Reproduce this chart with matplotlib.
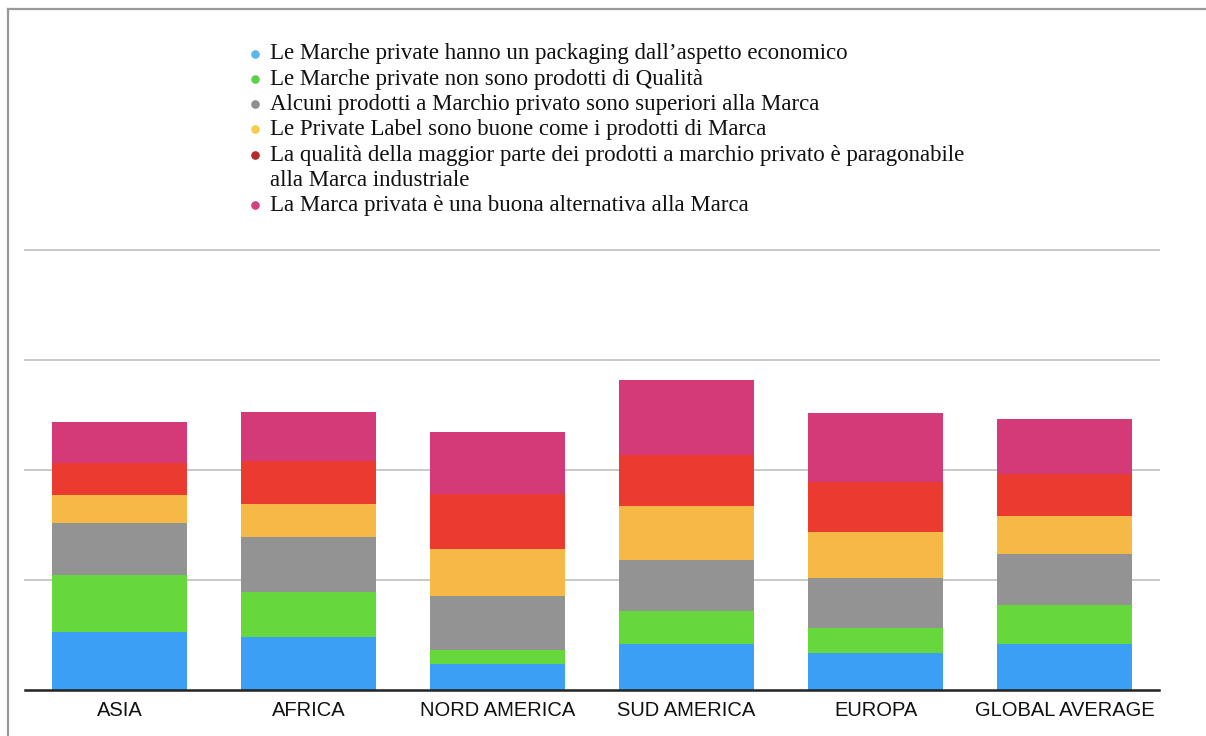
import numpy as np
import matplotlib.pyplot as plt
from matplotlib.lines import Line2D

regions = ['ASIA', 'AFRICA', 'NORD AMERICA', 'SUD AMERICA', 'EUROPA', 'GLOBAL AVERAGE']

statements = [
    'Le Marche private hanno un packaging dall\u2019aspetto economico',
    'Le Marche private non sono prodotti di Qualità',
    'Alcuni prodotti a Marchio privato sono superiori alla Marca',
    'Le Private Label sono buone come i prodotti di Marca',
    'La qualità della maggior parte dei prodotti a marchio privato è paragonabile\nalla Marca industriale',
    'La Marca privata è una buona alternativa alla Marca',
]

# one list per statement, one value per region
packaging = [26.5, 24.0, 12.0, 21.0, 17.0, 21.0]
non_qualita = [25.8, 20.5, 6.3, 14.9, 11.0, 17.5]
superiori = [23.5, 24.9, 24.4, 23.3, 22.9, 23.5]
buone = [12.8, 15.1, 21.5, 24.4, 20.8, 17.1]
paragonabile = [14.4, 19.7, 24.9, 23.1, 23.0, 19.2]
alternativa = [19.0, 22.2, 28.2, 34.3, 31.2, 24.9]

series = [packaging, non_qualita, superiori, buone, paragonabile, alternativa]
bar_colors = ['#3a9ff5', '#66d83b', '#939393', '#f6b945', '#eb3a2f', '#d33a77']
dot_colors = ['#5ab8ee', '#5fd04a', '#8f8f8f', '#f5cf4a', '#b52a2a', '#d44080']

W, H = 1206, 736
fig = plt.figure(figsize=(W / 100, H / 100), dpi=100)
ax = fig.add_axes([25 / W, 46 / H, 1134 / W, 440 / H])

x = np.arange(len(regions))
bottom = np.zeros(len(regions))
for vals, col in zip(series, bar_colors):
    ax.bar(x, vals, width=0.714, bottom=bottom, color=col, linewidth=0, zorder=2)
    bottom += np.array(vals)

ax.set_xlim(-0.5, len(regions) - 0.5)
ax.set_ylim(0, 200)
ax.set_yticks([50, 100, 150, 200])
ax.yaxis.grid(True, color='#c8c8c8', linewidth=1.4, zorder=0)
for gl in ax.get_ygridlines():
    gl.set_clip_on(False)
ax.tick_params(axis='y', length=0, labelleft=False)

ax.set_xticks(x)
ax.set_xticklabels(regions, fontfamily='Liberation Sans', fontsize=14.5, color='#111111')
ax.tick_params(axis='x', length=0, pad=8)

for s in ['top', 'right', 'left']:
    ax.spines[s].set_visible(False)
ax.spines['bottom'].set_color('#222222')
ax.spines['bottom'].set_linewidth(1.8)
ax.spines['bottom'].set_zorder(3)

# legend written line by line, wrapped items continue on the next line
line_step = 25.3
yb = 59.5
for txt, col in zip(statements, dot_colors):
    fig.add_artist(Line2D([255 / W], [1 - (yb - 6) / H], marker='o', markersize=5.2,
                          color=col, linestyle='none'))
    for part in txt.split('\n'):
        fig.text(270 / W, 1 - yb / H, part, fontfamily='Liberation Serif', fontsize=16.5,
                 color='#111111', va='baseline', ha='left')
        yb += line_step

# grey frame along the top and left edges
fig.add_artist(Line2D([8 / W, 8 / W], [0, 1 - 9 / H], color='#999999', linewidth=1.6))
fig.add_artist(Line2D([8 / W, 1], [1 - 9 / H, 1 - 9 / H], color='#999999', linewidth=1.6))

fig.savefig('out.png', dpi=100)
